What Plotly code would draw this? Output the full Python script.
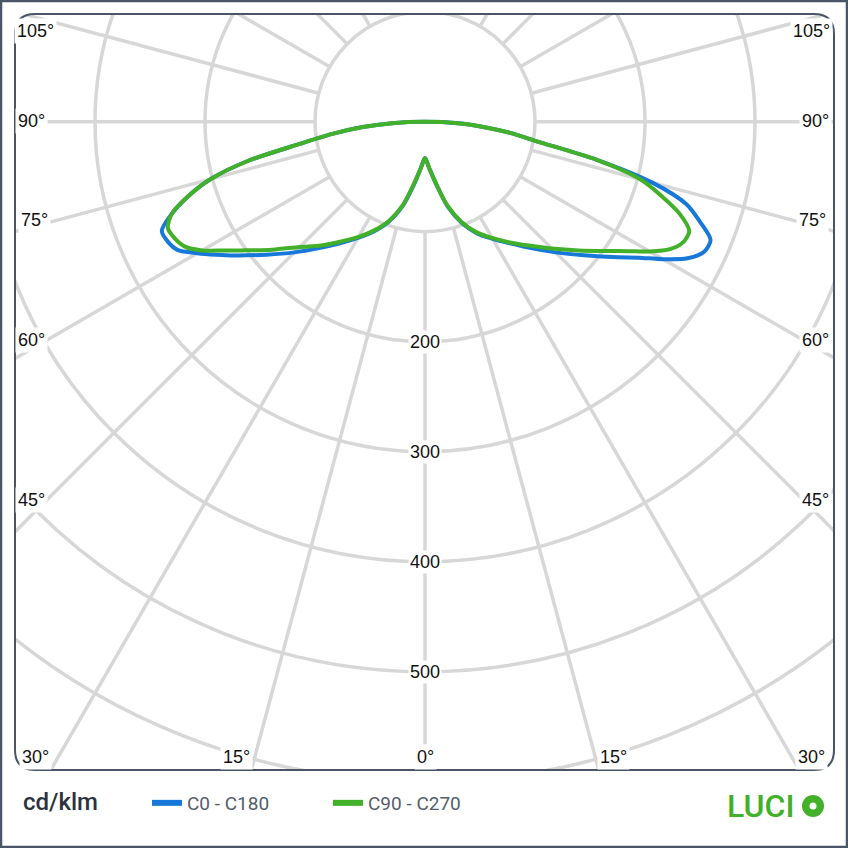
import numpy as np
import plotly.graph_objects as go

# ---------------- data (cd/klm) ----------------
GAMMA = [0, 5, 10, 15, 20, 25, 30, 35, 40, 45, 50, 55, 57.5, 60, 62.5, 65, 67.5,
         70, 72.5, 75, 77.5, 80, 82.5, 85, 87.5, 90]
C0 = [33, 42, 57, 80, 98, 112, 123, 135, 150, 168, 189, 215, 230, 250, 269, 280, 281,
      266, 249, 214, 160, 104, 78, 52, 30, 0]
C180 = [33, 42, 58, 80, 97, 110, 122, 135, 150, 168, 188, 212, 225, 239, 253, 258, 259,
        245, 226, 202, 165, 115, 85, 58, 30, 0]
C90 = [33, 42, 57, 79, 97, 111, 122, 134, 147, 163, 182, 205, 219, 236, 251, 259, 260,
       247, 226, 203, 160, 104, 78, 52, 30, 0]
C270 = [33, 42, 57, 79, 96, 109, 121, 133, 147, 161, 181, 204, 218, 234, 246, 251, 253,
        245, 226, 202, 165, 115, 85, 58, 30, 0]

RINGS = [100, 200, 300, 400, 500, 600, 700]
RING_LABELS = [200, 300, 400, 500]
SPOKES = list(range(0, 360, 15))
SIDE_LABELS = ["105°", "90°", "75°", "60°", "45°", "30°"]
BOTTOM_LABELS = ["15°", "0°", "15°"]
SERIES_NAMES = ["C0 - C180", "C90 - C270"]
UNIT = "cd/klm"

BLUE = "#1778DA"
GREEN = "#43B02A"
GRID = "#D7D7D7"
FRAME = "#4A5668"

# ---------------- geometry helpers ----------------
W = H = 848
L, R, T, B = 15, 14, 14, 78
PW, PH = W - L - R, H - T - B
CX, CY = 425, 121.7          # pixel position of the polar centre
SCALE = 1.1                  # px per cd/klm


def xp(px):
    return (px - L) / PW


def yp(py):
    return (H - B - py) / PH


def half(values, side, reverse=False):
    g = np.radians(GAMMA)
    r = np.asarray(values, dtype=float)
    x = side * r * np.sin(g)
    y = -r * np.cos(g)
    if reverse:
        return x[::-1], y[::-1]
    return x, y


def curve(left_vals, right_vals):
    xl, yl = half(left_vals, -1, reverse=True)
    xr, yr = half(right_vals, 1)
    return np.concatenate([xl, xr[1:]]), np.concatenate([yl, yr[1:]])


fig = go.Figure()

for (lv, rv), col, name in [((C180, C0), BLUE, SERIES_NAMES[0]),
                            ((C270, C90), GREEN, SERIES_NAMES[1])]:
    x, y = curve(lv, rv)
    fig.add_trace(go.Scatter(x=x, y=y, mode="lines", name=name,
                             line=dict(color=col, width=4, shape="spline", smoothing=0.8),
                             showlegend=False, hoverinfo="skip"))
    fig.add_trace(go.Scatter(x=[None], y=[None], mode="lines", name=name,
                             line=dict(color=col, width=6), showlegend=True))

shapes = []
for r in RINGS:
    shapes.append(dict(type="circle", xref="x", yref="y", x0=-r, x1=r, y0=-r, y1=r,
                       line=dict(color=GRID, width=3.5), layer="below"))
for a in SPOKES:
    t = np.radians(a)
    shapes.append(dict(type="line", xref="x", yref="y",
                       x0=100 * np.sin(t), y0=-100 * np.cos(t),
                       x1=1000 * np.sin(t), y1=-1000 * np.cos(t),
                       line=dict(color=GRID, width=3.5), layer="below"))

# white masks outside rounded corners + rounded frame
rx, ry = 20 / PW, 20 / PH
masks = [
    f"M 0,1 L 0,{1-ry} Q 0,1 {rx},1 Z",
    f"M 1,1 L {1-rx},1 Q 1,1 1,{1-ry} Z",
    f"M 0,0 L {rx},0 Q 0,0 0,{ry} Z",
    f"M 1,0 L 1,{ry} Q 1,0 {1-rx},0 Z",
]
for p in masks:
    shapes.append(dict(type="path", xref="paper", yref="paper", path=p,
                       fillcolor="white", line=dict(width=0), layer="above"))
frame = (f"M {rx},0 L {1-rx},0 Q 1,0 1,{ry} L 1,{1-ry} Q 1,1 {1-rx},1 "
         f"L {rx},1 Q 0,1 0,{1-ry} L 0,{ry} Q 0,0 {rx},0 Z")
shapes.append(dict(type="path", xref="paper", yref="paper", path=frame,
                   line=dict(color=FRAME, width=2), layer="above"))
# outer border
shapes.append(dict(type="rect", xref="paper", yref="paper",
                   x0=xp(1), x1=xp(847), y0=yp(847), y1=yp(1),
                   line=dict(color=FRAME, width=2.5), layer="above"))
# LUCIO "O" disc
shapes.append(dict(type="circle", xref="paper", yref="paper",
                   x0=xp(802), x1=xp(824), y0=yp(817), y1=yp(795),
                   fillcolor=GREEN, line=dict(width=0)))
shapes.append(dict(type="circle", xref="paper", yref="paper",
                   x0=xp(809.5), x1=xp(816.5), y0=yp(809.5), y1=yp(802.5),
                   fillcolor="white", line=dict(width=0)))

LABEL_FONT = dict(family="Liberation Sans, Arial, sans-serif", size=18, color="#111111")
ann = []
for r in RING_LABELS:
    ann.append(dict(x=0, y=-r, xref="x", yref="y", text=str(r), showarrow=False,
                    xanchor="center", yanchor="middle",
                    font=LABEL_FONT, bgcolor="white", borderpad=1))

left_pos = [(35, 31), (31, 121), (34, 220), (31, 340), (31, 500), (35, 757)]
right_pos = [(811, 31), (815, 121), (812, 220), (815, 340), (815, 500), (811, 757)]
bottom_pos = [(236, 757), (425, 757), (613, 757)]
for txt, (px, py) in (list(zip(SIDE_LABELS, left_pos)) + list(zip(SIDE_LABELS, right_pos))
                      + list(zip(BOTTOM_LABELS, bottom_pos))):
    ann.append(dict(x=xp(px), y=yp(py), xref="paper", yref="paper", text=txt,
                    xanchor="center", yanchor="middle",
                    showarrow=False, font=LABEL_FONT, bgcolor="white", borderpad=2))

ann.append(dict(x=xp(21), y=yp(802), xref="paper", yref="paper", text=UNIT,
                xanchor="left", yanchor="middle", showarrow=False,
                font=dict(family="Roboto, sans-serif", size=24, color="#2B333E", weight=500)))
ann.append(dict(x=xp(797), y=yp(806), xref="paper", yref="paper", text="LUCI",
                xanchor="right", yanchor="middle", showarrow=False,
                font=dict(family="Roboto, sans-serif", size=32, color=GREEN, weight=500)))

fig.update_layout(
    width=W, height=H,
    margin=dict(l=L, r=R, t=T, b=B),
    paper_bgcolor="white", plot_bgcolor="white",
    xaxis=dict(range=[(L - CX) / SCALE, (W - R - CX) / SCALE], visible=False,
               showgrid=False, zeroline=False, fixedrange=True),
    yaxis=dict(range=[(CY - (H - B)) / SCALE, (CY - T) / SCALE], visible=False,
               showgrid=False, zeroline=False, fixedrange=True),
    shapes=shapes,
    annotations=ann,
    showlegend=True,
    legend=dict(orientation="h", x=xp(147), y=yp(803), xanchor="left", yanchor="middle",
                font=dict(family="Roboto, sans-serif", size=19, color="#555E6B"),
                entrywidth=136, entrywidthmode="pixels", bgcolor="rgba(0,0,0,0)",
                itemclick=False, itemdoubleclick=False),
)

fig.write_html("out.html", config={"displayModeBar": False},
               post_script="document.body.style.margin='0';document.body.style.overflow='hidden';")
